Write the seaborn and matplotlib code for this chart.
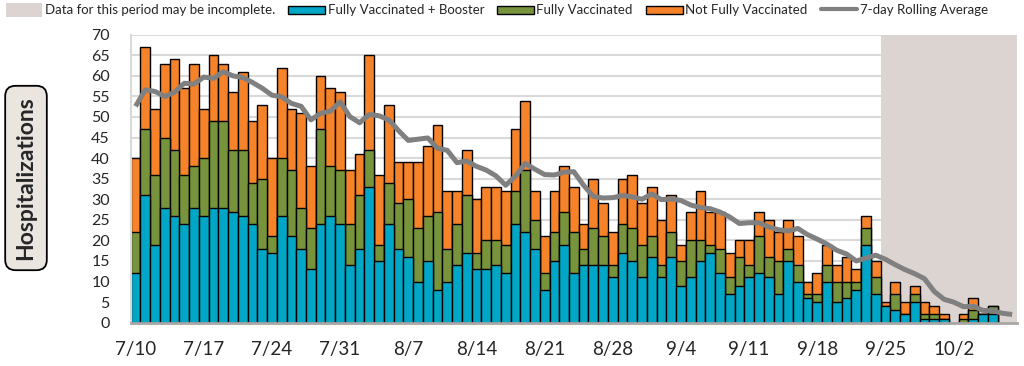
import numpy as np
import pandas as pd
import matplotlib
matplotlib.use("Agg")
import matplotlib.pyplot as plt
import seaborn as sns
from matplotlib.patches import Patch, Rectangle
from matplotlib.lines import Line2D
from matplotlib.legend_handler import HandlerPatch

# ---------------- data ----------------
boosted = [12, 31, 19, 28, 26, 24, 28, 26, 28, 28, 27, 26, 24, 18, 17, 26, 21, 18, 13, 24,
           26, 24, 14, 18, 33, 15, 24, 18, 16, 10, 15, 8, 10, 14, 17, 13, 13, 14, 12, 24,
           22, 18, 8, 15, 19, 12, 14, 14, 14, 11, 17, 15, 11, 16, 11, 16, 9, 11, 15, 17,
           12, 7, 9, 11, 12, 11, 7, 15, 10, 6, 5, 10, 5, 6, 8, 19, 7, 4, 3, 2,
           5, 1, 1, 1, 0, 0, 1, 2, 2, 0, 0]
fully = [10, 16, 17, 17, 16, 12, 10, 14, 21, 21, 15, 16, 10, 17, 4, 14, 16, 10, 10, 23,
         12, 13, 10, 13, 9, 4, 10, 11, 14, 13, 11, 19, 8, 10, 14, 4, 7, 6, 7, 8,
         15, 7, 4, 7, 8, 10, 4, 9, 7, 3, 7, 8, 8, 5, 3, 6, 6, 9, 5, 2,
         6, 4, 7, 3, 9, 5, 8, 3, 4, 1, 2, 4, 5, 4, 2, 4, 4, 0, 4, 0,
         2, 1, 1, 0, 0, 1, 2, 0, 2, 0, 0]
not_fully = [18, 20, 16, 18, 22, 21, 25, 12, 16, 14, 14, 19, 15, 18, 19, 22, 15, 23, 15, 13,
             19, 19, 13, 10, 23, 17, 19, 10, 9, 16, 17, 21, 14, 8, 11, 13, 13, 13, 13, 15,
             17, 7, 9, 10, 11, 11, 6, 12, 8, 8, 11, 13, 10, 12, 11, 9, 4, 7, 12, 8,
             9, 6, 4, 6, 6, 9, 7, 7, 7, 3, 5, 5, 4, 6, 3, 3, 4, 1, 3, 3,
             2, 3, 2, 1, 0, 1, 3, 0, 0, 0, 0]
rolling_avg = [52.6, 56.6, 56.2, 55.0, 56.0, 58.2, 58.0, 59.7, 59.4, 61.0,
               60.0, 59.6, 58.4, 57.0, 55.3, 54.9, 53.3, 52.6, 49.3, 50.9,
               51.4, 53.7, 50.1, 48.6, 50.6, 50.3, 49.3, 46.7, 44.3, 44.6,
               44.9, 42.4, 41.9, 38.9, 39.3, 38.0, 37.1, 35.7, 33.4, 35.6,
               38.7, 37.3, 36.0, 35.9, 36.6, 36.7, 33.4, 30.7, 30.3, 30.4,
               30.9, 30.6, 30.0, 31.3, 29.9, 30.1, 29.7, 28.6, 28.0, 27.7,
               26.9, 25.7, 24.1, 24.3, 24.3, 23.3, 22.6, 22.3, 22.9, 21.4,
               20.3, 19.1, 17.6, 16.7, 15.0, 15.7, 16.4, 15.4, 14.1, 12.9,
               11.9, 10.7, 7.6, 5.7, 5.0, 3.9, 4.0, 3.0, 2.9, 2.3, 2.0]
tick_labels = ["7/10", "7/17", "7/24", "7/31", "8/7", "8/14", "8/21", "8/28",
               "9/4", "9/11", "9/18", "9/25", "10/2"]
incomplete_from = "9/25"

series_names = ["Fully Vaccinated + Booster", "Fully Vaccinated", "Not Fully Vaccinated"]
line_name = "7-day Rolling Average"
shade_name = "Data for this period may be incomplete."

# ---------------- styling ----------------
C_BLUE = "#00a6c6"
C_GREEN = "#77933c"
C_ORANGE = "#f6822a"
C_LINE = "#808080"
C_SHADE = "#dcd4d0"

sns.set_theme(style="white")
plt.rcParams["font.family"] = ["Lato", "DejaVu Sans"]

days = pd.date_range("2021-07-10", periods=len(boosted))
day_lbl = [f"{d.month}/{d.day}" for d in days]

df = pd.DataFrame({"day": day_lbl, "b": boosted, "f": fully, "n": not_fully})
df["bf"] = df["b"] + df["f"]
df["total"] = df["bf"] + df["n"]
for c in ["b", "bf", "total"]:
    df[c + "_p"] = df[c].where(df[c] > 0)

fig = plt.figure(figsize=(10.24, 3.66), dpi=100)
ax = fig.add_axes([130.7 / 1024, 1 - 322.7 / 366, (1017 - 130.7) / 1024, (322.7 - 34.7) / 366])

pos = {d: i for i, d in enumerate(day_lbl)}
ax.axvspan(pos[incomplete_from] - 0.5, len(day_lbl) - 0.5, color=C_SHADE, lw=0, zorder=1)

common = dict(x="day", order=day_lbl, saturation=1, edgecolor="black", linewidth=1.0,
              width=1.0, errorbar=None, ax=ax, zorder=2)
sns.barplot(data=df, y="total_p", color=C_ORANGE, **common)
sns.barplot(data=df, y="bf_p", color=C_GREEN, **common)
sns.barplot(data=df, y="b_p", color=C_BLUE, **common)

sns.lineplot(x=np.arange(len(rolling_avg)), y=rolling_avg, color=C_LINE, lw=3.6,
             ax=ax, zorder=3, solid_capstyle="butt")

ax.set_xlim(-0.5, len(day_lbl) - 0.5)
ax.set_ylim(0, 70)
ax.set_yticks(range(0, 75, 5))
ax.set_xticks([pos[t] for t in tick_labels])
ax.set_xticklabels(tick_labels, fontsize=13.5)
ax.tick_params(axis="y", labelsize=11.5, length=0, pad=15)
ax.tick_params(axis="x", length=0, pad=13)
ax.set_xlabel("")
ax.set_ylabel("")
ax.yaxis.grid(True, color="#d9d9d9", lw=1.5)
ax.set_axisbelow(True)
for s in ["top", "right"]:
    ax.spines[s].set_visible(False)
ax.spines["left"].set_color("#d9d9d9")
ax.spines["left"].set_linewidth(1.5)
ax.spines["bottom"].set_color("#a6a6a6")
ax.spines["bottom"].set_linewidth(2)
ax.spines["bottom"].set_zorder(4)


def thin_rect(legend, orig_handle, xdescent, ydescent, width, height, fontsize):
    return Rectangle((-xdescent, -ydescent + height * 0.2), width, height * 0.55)


handles = [Patch(facecolor=C_SHADE, edgecolor="none"),
           Patch(facecolor=C_BLUE, edgecolor="black", lw=1),
           Patch(facecolor=C_GREEN, edgecolor="black", lw=1),
           Patch(facecolor=C_ORANGE, edgecolor="black", lw=1),
           Line2D([0], [0], color=C_LINE, lw=3)]
thin = HandlerPatch(patch_func=thin_rect)
labels = [shade_name] + series_names + [line_name]
fig.legend(handles, labels, loc="upper left", bbox_to_anchor=(-0.006, 1.025), ncol=5,
           frameon=False, fontsize=9.55, handlelength=2.75, handleheight=1.25,
           columnspacing=1.0, handletextpad=0.2,
           handler_map={handles[1]: thin, handles[2]: thin, handles[3]: thin})

fig.text(26 / 1024, 1 - 178 / 366, "Hospitalizations", rotation=90, fontsize=16.5,
         fontweight="bold", ha="center", va="center",
         bbox=dict(boxstyle="round,pad=0.45", fc="#ebe5e0", ec="black", lw=1.3))

fig.savefig("out.png", dpi=100)
